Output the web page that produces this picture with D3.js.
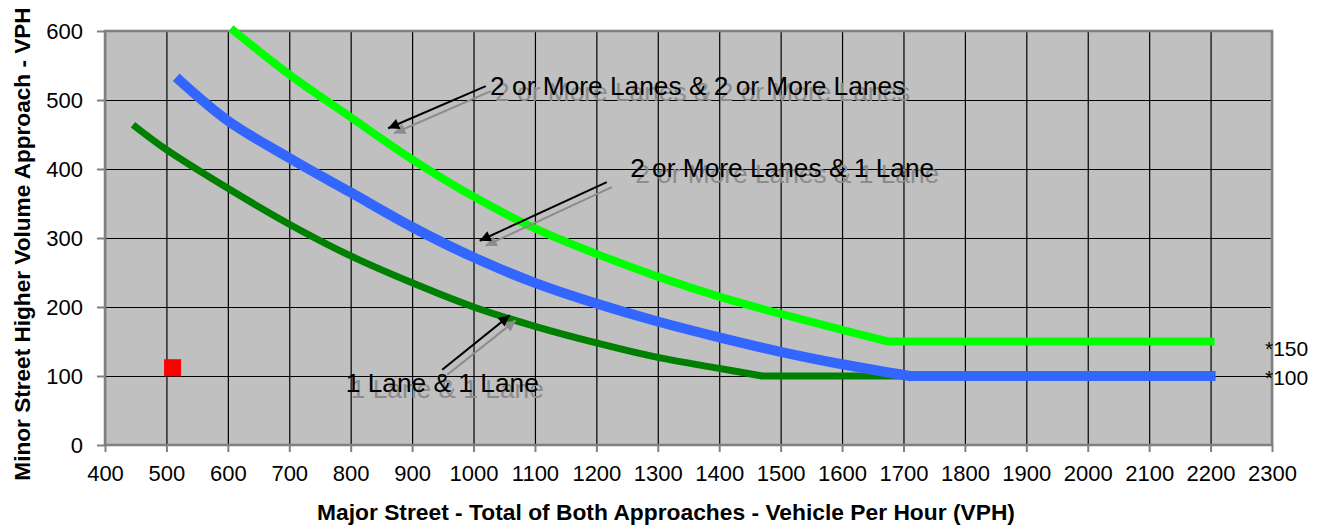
<!DOCTYPE html>
<html><head><meta charset="utf-8">
<script src="https://cdn.jsdelivr.net/npm/d3@7/dist/d3.min.js"></script>
<style>
body{margin:0;background:#fff;}
text{font-family:Arial,"Liberation Sans",sans-serif;}
</style></head>
<body><svg id="c" width="1320" height="527"></svg>
<script>
// ---- data ----
const xTicks = [400,500,600,700,800,900,1000,1100,1200,1300,1400,1500,1600,1700,1800,1900,2000,2100,2200,2300];
const yTicks = [0,100,200,300,400,500,600];

const oneOneX = [450,500,600,700,800,900,1000,1100,1200,1300,1400,1470,1700];
const oneOneY = [461,428,372,320,274,235,200,172,148,127,111,100,100];

const twoOneX = [522,600,700,800,900,1000,1100,1200,1300,1400,1500,1600,1710,2200];
const twoOneY = [528,470,416,366,316,272,235,205,179,156,135,117,100,100];

const twoTwoX = [610,700,800,900,1000,1100,1200,1300,1400,1500,1600,1675,2200];
const twoTwoY = [600,537,475,414,360,314,277,244,215,190,167,150,150];

const pointX = [510];
const pointY = [112];

const labelNames = ["2 or More Lanes & 2 or More Lanes","2 or More Lanes & 1 Lane","1 Lane & 1 Lane"];
const labelAtX = [1027,1255,792];
const labelAtY = [507,388,77];
const arrowFromX = [1020,1217,949];
const arrowFromY = [520,381,109];
const arrowToX = [861,1010,1059];
const arrowToY = [459,296,188];

const floorLabels = ["*150","*100"];
const floorValues = [150,100];

const xTitle = "Major Street - Total of Both Approaches - Vehicle Per Hour (VPH)";
const yTitle = "Minor Street Higher Volume Approach - VPH";

// ---- layout ----
const L = 105, R = 1272, T = 31, B = 445;
const svg = d3.select("#c");
const x = d3.scaleLinear().domain([400,2300]).range([L,R]);
const y = d3.scaleLinear().domain([0,600]).range([B,T]);

svg.append("rect").attr("x",L).attr("y",T).attr("width",R-L).attr("height",B-T).attr("fill","#c0c0c0");

// grid
const gx = svg.append("g").attr("transform",`translate(0,${B})`)
  .call(d3.axisBottom(x).tickValues(xTicks).tickSize(-(B-T)).tickFormat(""));
gx.select(".domain").remove();
gx.selectAll("line").attr("stroke","#000").attr("stroke-width",1.2);
const gy = svg.append("g").attr("transform",`translate(${L},0)`)
  .call(d3.axisLeft(y).tickValues(yTicks).tickSize(-(R-L)).tickFormat(""));
gy.select(".domain").remove();
gy.selectAll("line").attr("stroke","#000").attr("stroke-width",1.2);

// border
svg.append("rect").attr("x",L).attr("y",T).attr("width",R-L).attr("height",B-T)
  .attr("fill","none").attr("stroke","#808080").attr("stroke-width",2.5);

// axes
const ax = svg.append("g").attr("transform",`translate(0,${B})`)
  .call(d3.axisBottom(x).tickValues(xTicks).tickSize(7).tickPadding(13).tickFormat(d3.format("d")));
ax.select(".domain").remove();
ax.selectAll("line").attr("stroke","#808080").attr("stroke-width",2);
ax.selectAll("text").attr("font-size",22).attr("fill","#000");

const ay = svg.append("g").attr("transform",`translate(${L},0)`)
  .call(d3.axisLeft(y).tickValues(yTicks).tickSize(8).tickPadding(14).tickFormat(d3.format("d")));
ay.select(".domain").remove();
ay.selectAll("line").attr("stroke","#808080").attr("stroke-width",2);
ay.selectAll("text").attr("font-size",22).attr("fill","#000");

// lines: curved part through the readings, straight floor segment at the end
const curve = d3.line().x(d=>x(d[0])).y(d=>y(d[1])).curve(d3.curveCatmullRom.alpha(0.5));
function series(xs, ys, color, w){
  const pts = xs.map((v,i)=>[v,ys[i]]);
  const bent = pts.slice(0, pts.length-1);
  const last = pts[pts.length-1];
  const d = curve(bent) + `L${x(last[0])},${y(last[1])}`;
  svg.append("path").attr("d",d).attr("fill","none").attr("stroke",color)
    .attr("stroke-width",w).attr("stroke-linecap","square").attr("stroke-linejoin","round");
}
series(twoTwoX, twoTwoY, "#00ff00", 8);
series(oneOneX, oneOneY, "#008000", 7);
series(twoOneX, twoOneY, "#3366ff", 10);

// point
svg.selectAll("rect.pt").data(pointX).enter().append("rect").attr("class","pt")
  .attr("x",(d)=>x(d)-8.5).attr("y",(d,i)=>y(pointY[i])-8.5)
  .attr("width",17).attr("height",17).attr("fill","#ff0000");

// floor labels
floorLabels.forEach((t,i)=>{
  svg.append("text").attr("x",R-7).attr("y",y(floorValues[i])+ (i===0?14:9))
    .attr("font-size",21).text(t);
});

// annotations
const defs = svg.append("defs");
[["ah","#000"],["ahg","#8c8c8c"]].forEach(([id,c])=>{
  defs.append("marker").attr("id",id).attr("viewBox","0 0 10 10").attr("refX",10).attr("refY",5)
    .attr("markerWidth",15).attr("markerHeight",11).attr("markerUnits","userSpaceOnUse")
    .attr("orient","auto").append("path").attr("d","M0,0L10,5L0,10Z").attr("fill",c);
});
labelNames.forEach((t,i)=>{
  const x1=x(arrowFromX[i]), y1=y(arrowFromY[i]), x2=x(arrowToX[i]), y2=y(arrowToY[i]);
  svg.append("line").attr("x1",x1+5).attr("y1",y1+5).attr("x2",x2+6).attr("y2",y2+5)
    .attr("stroke","#8c8c8c").attr("stroke-width",2).attr("marker-end","url(#ahg)");
  svg.append("text").attr("x",x(labelAtX[i])+5).attr("y",y(labelAtY[i])+6)
    .attr("font-size",26.3).attr("fill","#8c8c8c").text(t);
  svg.append("line").attr("x1",x1).attr("y1",y1).attr("x2",x2).attr("y2",y2)
    .attr("stroke","#000").attr("stroke-width",2).attr("marker-end","url(#ah)");
  svg.append("text").attr("x",x(labelAtX[i])).attr("y",y(labelAtY[i]))
    .attr("font-size",26.3).attr("fill","#000").text(t);
});

// titles
svg.append("text").attr("x",666).attr("y",520).attr("text-anchor","middle")
  .attr("font-size",22.8).attr("font-weight","bold").text(xTitle);
svg.append("text").attr("transform",`translate(30,244) rotate(-90)`).attr("text-anchor","middle")
  .attr("font-size",22.6).attr("font-weight","bold").text(yTitle);
</script>
</body></html>
